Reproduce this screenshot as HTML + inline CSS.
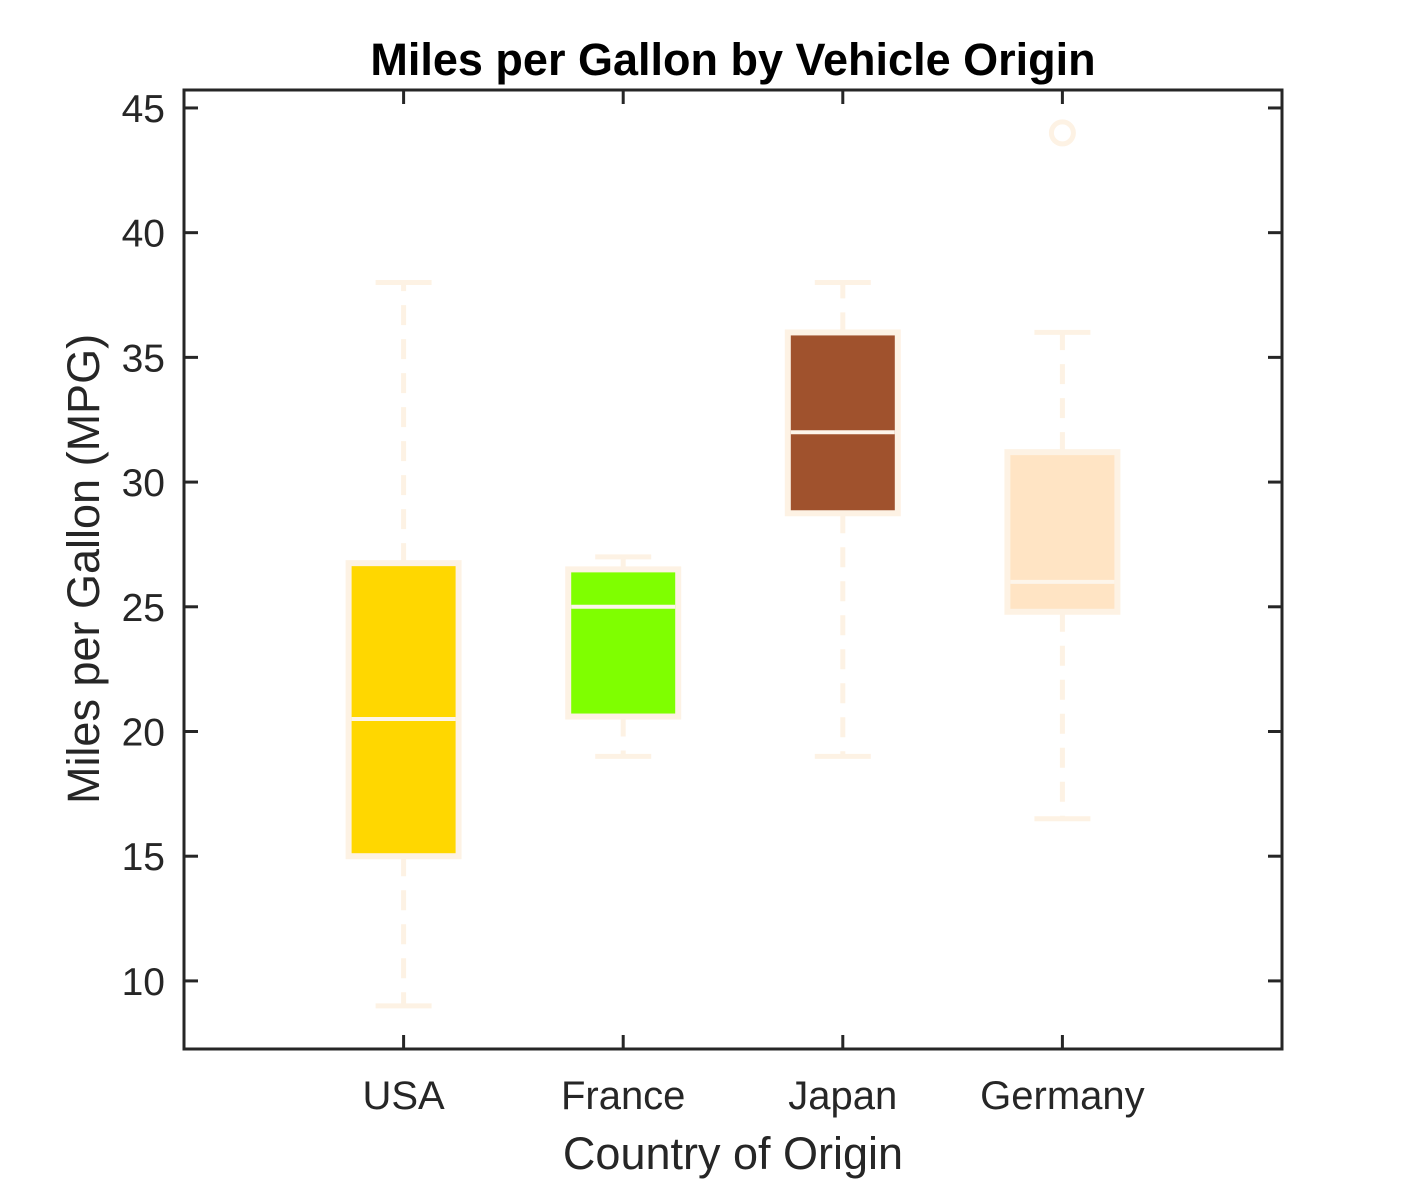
<!DOCTYPE html>
<html><head><meta charset="utf-8"><style>
html,body{margin:0;padding:0;background:#fff;}
svg text{font-family:"Liberation Sans",Arial,sans-serif;fill:#262626;}
</style></head><body>
<svg id="chart" width="1417" height="1181" viewBox="0 0 1417 1181" xmlns="http://www.w3.org/2000/svg">
<rect width="1417" height="1181" fill="#fff"/>
<text x="733" y="75" text-anchor="middle" font-size="45" font-weight="bold" style="fill:#000">Miles per Gallon by Vehicle Origin</text>
<g id="plot"></g>
<rect x="184" y="90" width="1098" height="959" fill="none" stroke="#262626" stroke-width="3"/>
<text x="733" y="1169" text-anchor="middle" font-size="45">Country of Origin</text>
<text transform="translate(99,569) rotate(-90)" text-anchor="middle" font-size="45">Miles per Gallon (MPG)</text>
</svg>
<script>
const categories = ["USA","France","Japan","Germany"];
const whiskerLow = [9,19,19,16.5];
const whiskerHigh = [38,27,38,36];
const q1 = [15,20.6,28.75,24.8];
const q3 = [26.75,26.5,36,31.2];
const medians = [20.5,25,32,26];
const outliers = [[],[],[],[44]];
const fills = ["#ffd700","#7fff00","#a0522d","#ffe4c4"];
const yTicks = [10,15,20,25,30,35,40,45];

const NS="http://www.w3.org/2000/svg";
const L=184,R=1282,T=90,B=1049;
const yMin=7.27,yMax=45.72;
const y=v=>B-(v-yMin)/(yMax-yMin)*(B-T);
const x=i=>L+(i+1)/5*(R-L);
const g=document.getElementById('plot');
function mk(tag,attrs,parent){const e=document.createElementNS(NS,tag);for(const k in attrs)e.setAttribute(k,attrs[k]);(parent||g).appendChild(e);return e;}
const edge="#fdf2e4";
yTicks.forEach(v=>{
  const t=mk('line',{x1:L,x2:L+14,y1:y(v),y2:y(v),stroke:'#262626','stroke-width':3});
  
  
  const t2=mk('line',{x1:R-14,x2:R,y1:y(v),y2:y(v),stroke:'#262626','stroke-width':3});
  
  
  const lb=mk('text',{x:L-19,y:y(v)+14,'text-anchor':'end','font-size':39});
  lb.textContent=v;
  
  
});
categories.forEach((c,i)=>{
  const cx=x(i);
  const t=mk('line',{x1:cx,x2:cx,y1:B,y2:B-14,stroke:'#262626','stroke-width':3});
  
  
  const t2=mk('line',{x1:cx,x2:cx,y1:T,y2:T+14,stroke:'#262626','stroke-width':3});
  
  
  const lb=mk('text',{x:cx,y:1109,'text-anchor':'middle','font-size':40});
  lb.textContent=c;
  
  
  const grp=mk('g',{});
  
  
  const w1=mk('line',{x1:cx,x2:cx,y1:y(q3[i]),y2:y(whiskerHigh[i]),stroke:edge,'stroke-width':5,'stroke-dasharray':'20 14'},grp);
  
  
  const w2=mk('line',{x1:cx,x2:cx,y1:y(q1[i]),y2:y(whiskerLow[i]),stroke:edge,'stroke-width':5,'stroke-dasharray':'20 14'},grp);
  
  
  [whiskerHigh[i],whiskerLow[i]].forEach(v=>{
    const cp=mk('line',{x1:cx-28,x2:cx+28,y1:y(v),y2:y(v),stroke:edge,'stroke-width':5},grp);
    
    
  });
  const bx=mk('rect',{x:cx-55,y:y(q3[i]),width:110,height:y(q1[i])-y(q3[i]),fill:fills[i],stroke:edge,'stroke-width':6},grp);
  
  
  const md=mk('line',{x1:cx-52,x2:cx+52,y1:y(medians[i]),y2:y(medians[i]),stroke:'#fdf5ea','stroke-width':4},grp);
  
  
  outliers[i].forEach(v=>{
    const o=mk('circle',{cx:cx,cy:y(v),r:11,fill:'none',stroke:edge,'stroke-width':5},grp);
    
    
  });
});
</script>
</body></html>
